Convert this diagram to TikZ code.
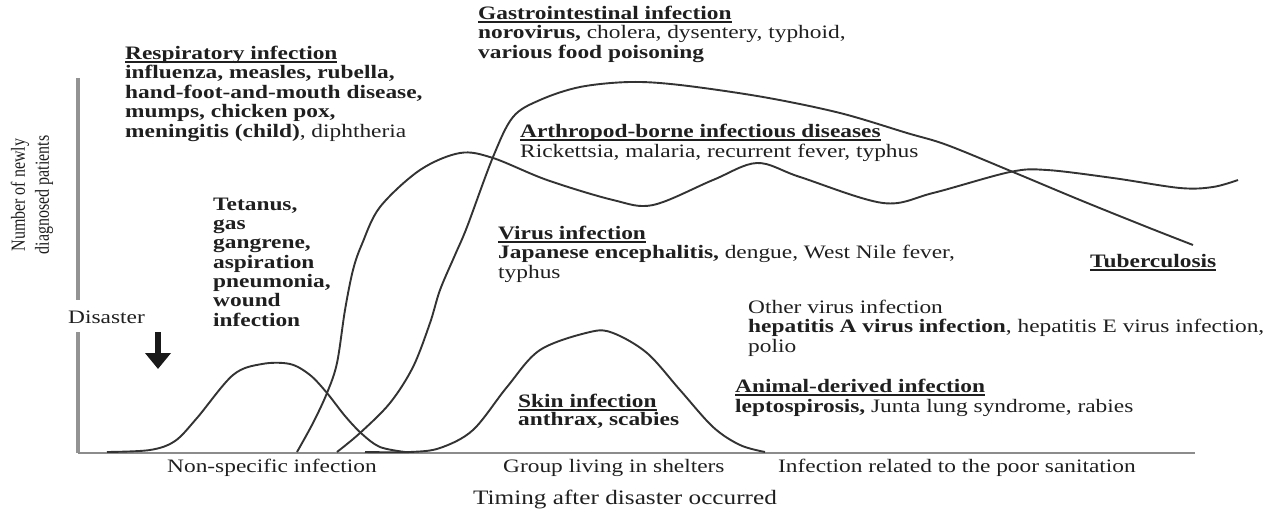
\documentclass[tikz,border=0pt]{standalone}
\usepackage{fontspec}
\setmainfont{Liberation Serif}[FakeStretch=1.23]
\newfontfamily\condfont{Liberation Serif}[FakeStretch=0.8]
\usetikzlibrary{arrows.meta}

% bold heading with a thick underline
\newcommand{\uhead}[1]{\setbox0\hbox{\bfseries #1}\rlap{\raisebox{-3.6pt}{\rule{\wd0}{1.7pt}}}\box0}

\begin{document}
\begin{tikzpicture}[x=1pt, y=-1pt,
  infcurve/.style={draw=black!80, line width=1.9pt, smooth, tension=0.55},
  lbl/.style={anchor=base west, align=left, inner sep=0pt, text=black!88,
    font=\fontsize{19}{19.5}\selectfont},
  phase/.style={anchor=base west, inner sep=0pt, text=black!88,
    font=\fontsize{19}{19.5}\selectfont}]

\useasboundingbox (0,0) rectangle (1275,514);

% Define points
% O is the origin of the axes, Y the top of the vertical axis, X the end of the time axis
% G1 and G2 bound the gap left for the word Disaster
\coordinate (O) at (78,453);
\coordinate (Y) at (78,78);
\coordinate (G1) at (78,300);
\coordinate (G2) at (78,332);
\coordinate (X) at (1195,453);
\coordinate (A1) at (158,332);
\coordinate (A2) at (158,369);

% Draw vertical axis (two pieces)
\draw[gray!85, line width=4.5pt] (Y) -- (G1);
\draw[gray!85, line width=4.5pt] (G2) -- (O);

% Draw time axis
\draw[gray!90, line width=1.2pt] (O) -- (X);

% Draw the Disaster arrow
\draw[black!90, line width=6pt, -{Triangle[width=25pt,length=16pt]}] (A1) -- (A2);

% Non-specific infection bump
\draw[infcurve] plot coordinates {(107,452) (150,450) (175,441) (197,418) (233,375)
  (262,364) (290,364) (310,375) (327,393) (345,416) (362,434) (380,447) (405,452)};

% Skin infection bump
\draw[infcurve] plot coordinates {(365,452) (410,452) (440,448) (473,430) (507,387)
  (540,350) (590,332) (613,333) (647,353) (680,390) (713,427) (740,445) (765,452)};

% Respiratory infection wave
\draw[infcurve] plot coordinates {(297,452) (313,423) (327,393) (337,363) (345,310)
  (353,270) (362,244) (380,207) (420,170) (460,153) (493,158) (547,180) (613,200)
  (653,205) (713,180) (757,163) (800,177) (883,203) (933,193) (1010,172) (1047,170)
  (1113,178) (1180,188) (1213,187) (1238,180)};

% Gastrointestinal infection hump
\draw[infcurve] plot coordinates {(337,452) (360,433) (390,403) (413,367) (430,323)
  (440,290) (455,255) (467,227) (493,157) (513,117) (540,100) (580,87) (630,82)
  (680,85) (763,97) (840,113) (907,133) (947,145) (1013,172) (1080,200) (1147,227)
  (1193,245)};

% Label the vertical axis
\node[rotate=90, align=center, inner sep=0pt, text=black!88,
  font=\condfont\fontsize{20}{24}\selectfont] (ylab) at (32,195)
  {Number of newly\\diagnosed patients};

% Label the disaster
\node[lbl] (dis) at (68,323) {Disaster};

% Label the infection groups (anchored at the baseline of their last line)
\node[lbl] (resp) at (125,137) {\uhead{Respiratory infection}\\
  \textbf{influenza, measles, rubella,}\\
  \textbf{hand-foot-and-mouth disease,}\\
  \textbf{mumps, chicken pox,}\\
  \textbf{meningitis (child)}, diphtheria};
\node[lbl] (gastro) at (478,58) {\uhead{Gastrointestinal infection}\\
  \textbf{norovirus,} cholera, dysentery, typhoid,\\
  \textbf{various food poisoning}};
\node[lbl] (arth) at (520,157) {\uhead{Arthropod-borne infectious diseases}\\
  Rickettsia, malaria, recurrent fever, typhus};
\node[lbl, font=\fontsize{19}{19.3}\selectfont] (tet) at (213,326) {\textbf{Tetanus,}\\
  \textbf{gas}\\ \textbf{gangrene,}\\ \textbf{aspiration}\\ \textbf{pneumonia,}\\
  \textbf{wound}\\ \textbf{infection}};
\node[lbl] (virus) at (498,278) {\uhead{Virus infection}\\
  \textbf{Japanese encephalitis,} dengue, West Nile fever,\\
  typhus};
\node[lbl] (tb) at (1090,267) {\uhead{Tuberculosis}};
\node[lbl] (other) at (748,352) {Other virus infection\\
  \textbf{hepatitis A virus infection}, hepatitis E virus infection,\\
  polio};
\node[lbl] (animal) at (735,412) {\uhead{Animal-derived infection}\\
  \textbf{leptospirosis,} Junta lung syndrome, rabies};
\node[lbl, font=\fontsize{19}{18}\selectfont] (skin) at (518,425) {\uhead{Skin infection}\\
  \textbf{anthrax, scabies}};

% Label the phases on the time axis
\node[phase] (nonspec) at (167,472) {Non-specific infection};
\node[phase] (shelter) at (503,472) {Group living in shelters};
\node[phase] (sanit) at (778,472) {Infection related to the poor sanitation};
\node[phase, font=\fontsize{20.5}{21}\selectfont] (timing) at (473,504) {Timing after disaster occurred};

\end{tikzpicture}
\end{document}
